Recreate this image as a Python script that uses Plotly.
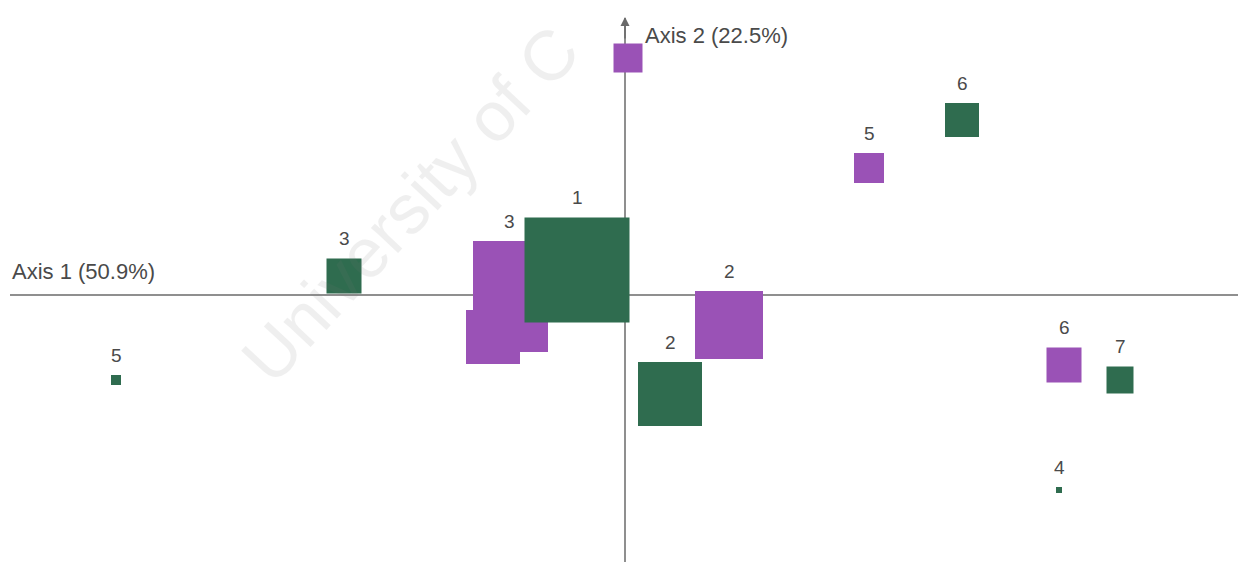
import plotly.graph_objects as go

# Purple category points (axis 1, axis 2 coordinates, mass-based size, label)
purple_x = [0.03, 2.44, -1.16, -1.32, -1.02, 1.04, 4.39]
purple_y = [2.37, 1.27, 0.18, -0.42, -0.32, -0.30, -0.70]
purple_size = [29, 30, 72, 54, 50, 68, 35]
purple_labels = ["", "5", "3", "", "", "2", "6"]

# Green category points
green_x = [3.37, -0.48, -2.81, -5.09, 0.45, 4.95, 4.34]
green_y = [1.75, 0.25, 0.19, -0.85, -0.99, -0.85, -1.95]
green_size = [34, 105, 35, 10, 64, 27, 6]
green_labels = ["6", "1", "3", "5", "2", "7", "4"]

axis1_title = "Axis 1 (50.9%)"
axis2_title = "Axis 2 (22.5%)"
watermark = "University of C"

PURPLE = "#9a52b6"
GREEN = "#2f6c4f"
TEXT = "#4a4a4a"
LINE = "#6a6a6a"
FONT = "Liberation Sans, Arial, sans-serif"

XR = [-6.25, 6.13]
YR = [-2.67, 2.95]

fig = go.Figure()

fig.add_trace(go.Scatter(
    x=purple_x, y=purple_y, mode="markers",
    marker=dict(symbol="square", size=purple_size, color=PURPLE,
                opacity=1, line=dict(width=0)),
    hoverinfo="skip", showlegend=False))
fig.add_trace(go.Scatter(
    x=green_x, y=green_y, mode="markers",
    marker=dict(symbol="square", size=green_size, color=GREEN,
                opacity=1, line=dict(width=0)),
    hoverinfo="skip", showlegend=False))

ann = []
for xs, ys, ss, ls in [(purple_x, purple_y, purple_size, purple_labels),
                       (green_x, green_y, green_size, green_labels)]:
    for x, y, s, l in zip(xs, ys, ss, ls):
        if l:
            ann.append(dict(x=x, y=y, text=l, showarrow=False,
                            yshift=s / 2 + 20, yanchor="middle",
                            font=dict(family=FONT, size=19, color=TEXT)))

# axis titles
ann.append(dict(x=XR[0], y=0, xref="x", yref="y", text=axis1_title,
                showarrow=False, xanchor="left", yanchor="bottom",
                xshift=10, yshift=9,
                font=dict(family=FONT, size=22, color=TEXT)))
ann.append(dict(x=0, y=YR[1], text=axis2_title, showarrow=False,
                xanchor="left", yanchor="top", xshift=18, yshift=-21,
                font=dict(family=FONT, size=22, color=TEXT)))
# arrow tip on vertical axis
ann.append(dict(x=0, y=2.78, ax=0, ay=2.55, xref="x", yref="y",
                axref="x", ayref="y", text="", showarrow=True,
                arrowhead=2, arrowsize=1.2, arrowwidth=1.5,
                arrowcolor=LINE))
# faint watermark
ann.append(dict(x=-2.15, y=0.9, text=watermark, showarrow=False,
                textangle=-47, opacity=0.11,
                font=dict(family=FONT, size=70, color="#777777")))

fig.update_layout(
    width=1238, height=562,
    margin=dict(l=0, r=0, t=0, b=0),
    paper_bgcolor="white", plot_bgcolor="white",
    xaxis=dict(range=XR, visible=False, fixedrange=True),
    yaxis=dict(range=YR, visible=False, fixedrange=True),
    annotations=ann,
    shapes=[
        dict(type="line", xref="x", yref="y", x0=XR[0] + 0.1, x1=XR[1],
             y0=0, y1=0, line=dict(color=LINE, width=1.5), layer="below"),
        dict(type="line", xref="x", yref="y", x0=0, x1=0,
             y0=YR[0], y1=2.77, line=dict(color=LINE, width=1.5),
             layer="below"),
    ],
)

fig.write_html("out.html")
